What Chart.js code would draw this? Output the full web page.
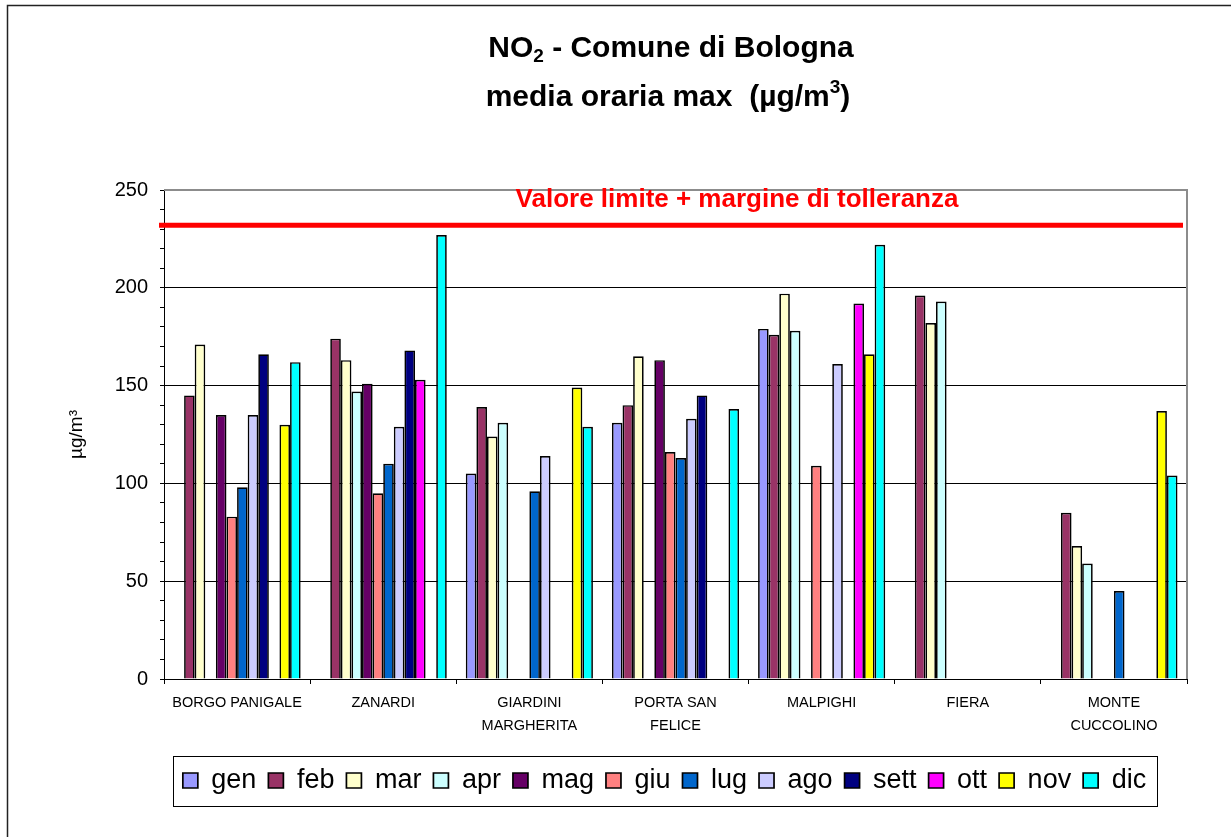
<!DOCTYPE html>
<html>
<head>
<meta charset="utf-8">
<title>NO2 - Comune di Bologna</title>
<script src="https://cdn.jsdelivr.net/npm/chart.js@4.4.1/dist/chart.umd.min.js"></script>
<style>
  html, body { margin: 0; padding: 0; background: #fff; }
  canvas { display: block; }
</style>
</head>
<body>
<canvas id="chart" width="1231" height="837"></canvas>
<script>
// stazioni di misura (etichette asse x)
const stations = [
    'BORGO PANIGALE',
    'ZANARDI',
    ['GIARDINI', 'MARGHERITA'],
    ['PORTA SAN', 'FELICE'],
    'MALPIGHI',
    'FIERA',
    ['MONTE', 'CUCCOLINO']
];

const months = ['gen', 'feb', 'mar', 'apr', 'mag', 'giu', 'lug', 'ago', 'sett', 'ott', 'nov', 'dic'];

// media oraria max per mese (µg/m3), null = dato mancante
const gen  = [null, null, 105, 131, 179, null, null];
const feb  = [145, 174, 139, 140, 176, 196, 85];
const mar  = [171, 163, 124, 165, 197, 182, 68];
const apr  = [null, 147, 131, null, 178, 193, 59];
const mag  = [135, 151, null, 163, null, null, null];
const giu  = [83, 95, null, 116, 109, null, null];
const lug  = [98, 110, 96, 113, null, null, 45];
const ago  = [135, 129, 114, 133, 161, null, null];
const sett = [166, 168, null, 145, null, null, null];
const ott  = [null, 153, null, null, 192, null, null];
const nov  = [130, null, 149, null, 166, null, 137];
const dic  = [162, 227, 129, 138, 222, null, 104];

const monthValues = [gen, feb, mar, apr, mag, giu, lug, ago, sett, ott, nov, dic];
const monthColors = ['#9999FF', '#993366', '#FFFFCC', '#CCFFFF', '#660066', '#FF8080',
                     '#0066CC', '#CCCCFF', '#000080', '#FF00FF', '#FFFF00', '#00FFFF'];

// valore limite + margine di tolleranza
const limitValue = 232;
const limitLabel = 'Valore limite + margine di tolleranza';

const yTicks = [0, 50, 100, 150, 200, 250];

const FONT = '"Liberation Sans", Arial, sans-serif';
Chart.defaults.font.family = FONT;
Chart.defaults.color = '#000';

const datasets = months.map((m, i) => ({
    label: m,
    data: monthValues[i],
    backgroundColor: monthColors[i],
    borderColor: '#000',
    borderWidth: 1.7
}));

// disegno di titolo, linea limite, cornici
const decor = {
    id: 'decor',
    afterLayout(chart) {
        // sposta la legenda come nell'originale
        const lg = chart.legend;
        const shift = 664.5 - (lg.left + lg.right) / 2;
        lg.left += shift;
        lg.right += shift;
    },
    beforeDraw(chart) {
        const ctx = chart.ctx;
        ctx.save();
        ctx.fillStyle = '#fff';
        ctx.fillRect(0, 0, chart.width, chart.height);
        ctx.strokeStyle = '#222';
        ctx.lineWidth = 1.5;
        ctx.beginPath();
        ctx.moveTo(7.5, chart.height);
        ctx.lineTo(7.5, 5.5);
        ctx.lineTo(chart.width, 5.5);
        ctx.stroke();
        ctx.restore();
    },
    afterDatasetsDraw(chart) {
        const ctx = chart.ctx;
        const area = chart.chartArea;
        const y = chart.scales.y;
        ctx.save();
        // bordo area del grafico
        ctx.strokeStyle = '#8c8c8c';
        ctx.lineWidth = 2;
        ctx.beginPath();
        ctx.moveTo(area.left, area.top);
        ctx.lineTo(area.right, area.top);
        ctx.lineTo(area.right, area.bottom);
        ctx.stroke();
        // linea limite
        const ly = y.getPixelForValue(limitValue);
        ctx.strokeStyle = '#FF0000';
        ctx.lineWidth = 5;
        ctx.beginPath();
        ctx.moveTo(area.left - 5, ly);
        ctx.lineTo(area.right - 4, ly);
        ctx.stroke();
        ctx.fillStyle = '#FF0000';
        ctx.font = 'bold 26px ' + FONT;
        ctx.textAlign = 'center';
        ctx.textBaseline = 'alphabetic';
        ctx.fillText(limitLabel, 737, 207);
        ctx.restore();
    },
    afterDraw(chart) {
        const ctx = chart.ctx;
        ctx.save();
        ctx.fillStyle = '#000';
        ctx.textBaseline = 'alphabetic';
        ctx.textAlign = 'left';
        const big = 'bold 30px ' + FONT;
        const small = 'bold 19px ' + FONT;
        const drawParts = (parts, cx, base) => {
            let w = 0;
            parts.forEach(p => { ctx.font = p[1]; w += ctx.measureText(p[0]).width; });
            let x = cx - w / 2;
            parts.forEach(p => {
                ctx.font = p[1];
                ctx.fillText(p[0], x, base + p[2]);
                x += ctx.measureText(p[0]).width;
            });
        };
        drawParts([['NO', big, 0], ['2', small, 5], [' - Comune di Bologna', big, 0]], 671, 57);
        drawParts([['media oraria max  (\u00b5g/m', big, 0], ['3', small, -13], [')', big, 0]], 668, 106);

        // riquadro legenda
        const hb = chart.legend.legendHitBoxes;
        if (hb && hb.length) {
            const first = hb[0], last = hb[hb.length - 1];
            const cy = first.top + first.height / 2;
            ctx.strokeStyle = '#000';
            ctx.lineWidth = 1;
            ctx.strokeRect(Math.round(first.left - 10) + 0.5, Math.round(cy - 25) + 0.5,
                Math.round(last.left + last.width + 11 - first.left + 10), 50);
        }
        ctx.restore();
    }
};

const ctx = document.getElementById('chart').getContext('2d');
new Chart(ctx, {
    type: 'bar',
    data: {
        labels: stations,
        datasets: datasets
    },
    options: {
        responsive: false,
        animation: false,
        events: [],
        layout: {
            padding: { left: 61, right: 44, top: 190, bottom: 33 }
        },
        datasets: {
            bar: {
                categoryPercentage: 0.87,
                barPercentage: 1.0
            }
        },
        scales: {
            x: {
                afterFit: scale => { scale.height = 76; },
                grid: {
                    drawOnChartArea: false,
                    offset: true,
                    tickLength: 5,
                    tickColor: '#000'
                },
                border: { color: '#000', width: 1 },
                ticks: {
                    autoSkip: false,
                    maxRotation: 0,
                    padding: 7,
                    color: '#000',
                    font: { size: 14.5, lineHeight: 1.6 }
                }
            },
            y: {
                min: 0,
                max: 250,
                afterFit: scale => { scale.width = 103; },
                grid: {
                    color: c => {
                        const v = c.tick ? c.tick.value : -1;
                        if (v === 250) return '#9a9a9a';
                        return yTicks.includes(v) ? '#000' : 'rgba(0,0,0,0)';
                    },
                    tickColor: '#000',
                    tickLength: 4,
                    lineWidth: 1
                },
                border: { color: '#000', width: 1 },
                ticks: {
                    stepSize: 10,
                    autoSkip: false,
                    padding: 12,
                    color: '#000',
                    font: { size: 20 },
                    callback: v => yTicks.includes(v) ? v : ''
                },
                title: {
                    display: true,
                    text: '\u00b5g/m\u00b3',
                    color: '#000',
                    font: { size: 19 },
                    padding: { top: 4, bottom: 4 }
                }
            }
        },
        plugins: {
            title: { display: false },
            tooltip: { enabled: false },
            legend: {
                display: true,
                position: 'bottom',
                fullSize: false,
                labels: {
                    boxWidth: 15,
                    boxHeight: 15,
                    padding: 12,
                    color: '#000',
                    font: { size: 27 }
                }
            }
        }
    },
    plugins: [decor]
});
</script>
</body>
</html>
